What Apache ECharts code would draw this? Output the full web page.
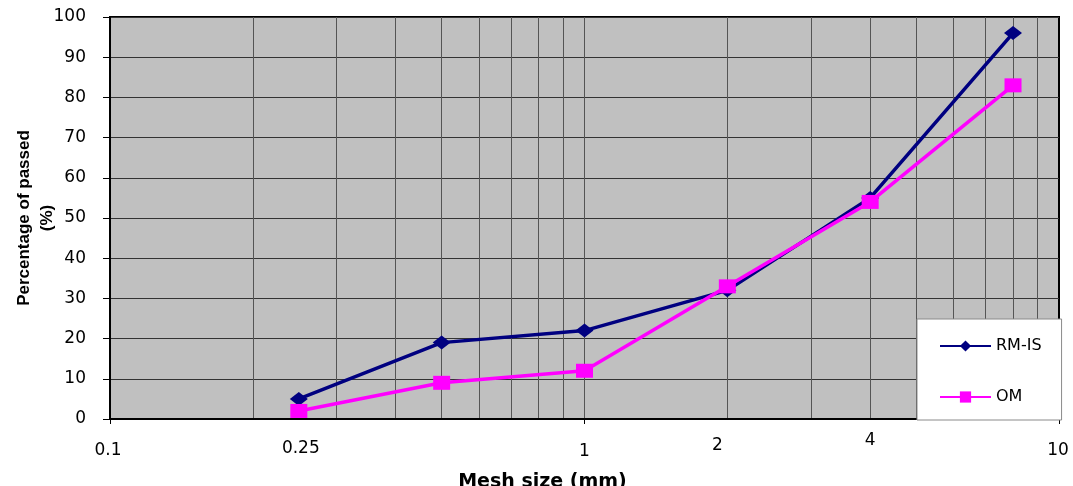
<!DOCTYPE html>
<html>
<head>
<meta charset="utf-8">
<script src="https://cdn.jsdelivr.net/npm/echarts@6/dist/echarts.min.js"></script>
<style>
html,body{margin:0;padding:0;background:#fff;}
#chart{width:1073px;height:486px;}
</style>
</head>
<body>
<div id="chart"></div>
<script>
// ---- data ----
var meshSizes = [0.25, 0.5, 1, 2, 4, 8];
var rmisValues = [5, 19, 22, 32, 55, 96];
var omValues = [2, 9, 12, 33, 54, 83];
var seriesNames = ['RM-IS', 'OM'];
var xTickLabels = [0.1, 0.25, 1, 2, 4, 10];
var xMajorTicks = [0.1, 1, 10];
var xGridValues = [0.2, 0.3, 0.4, 0.5, 0.6, 0.7, 0.8, 0.9, 1, 2, 3, 4, 5, 6, 7, 8, 9];
var yMin = 0, yMax = 100, yStep = 10;

// ---- styling for individual x labels (Excel placed them by hand) ----
var labelStyleKeys = ['a', 'b', 'c', 'd', 'e', 'f'];
var labelRich = {
  a: {lineHeight: 37, padding: [0, 4, 0, 0]},
  b: {lineHeight: 34, padding: [0, 0, 0, 4]},
  c: {lineHeight: 40, padding: [0, 0, 0, 0]},
  d: {lineHeight: 27, padding: [0, 20, 0, 0]},
  e: {lineHeight: 17, padding: [0, 0, 0, 0]},
  f: {lineHeight: 38, padding: [0, 2, 0, 0]}
};
Object.keys(labelRich).forEach(function (k) {
  labelRich[k].fontFamily = 'DejaVu Sans';
  labelRich[k].fontSize = 17;
  labelRich[k].color = '#000';
});

function pairs(xs, ys) {
  return xs.map(function (x, i) { return [x, ys[i]]; });
}

var chart = echarts.init(document.getElementById('chart'), null, {renderer: 'canvas'});
chart.setOption({
  animation: false,
  backgroundColor: '#fff',
  grid: {
    left: 110, top: 17, right: 14, bottom: 67,
    containLabel: false,
    outerBoundsMode: 'none',
    show: true,
    backgroundColor: '#C0C0C0',
    borderColor: '#000',
    borderWidth: 2
  },
  legend: {
    orient: 'vertical',
    left: 917, top: 319,
    padding: [19, 20, 15, 22],
    itemGap: 35,
    itemWidth: 51,
    itemHeight: 14,
    backgroundColor: '#fff',
    borderColor: '#8a8a8a',
    borderWidth: 1,
    borderRadius: 0,
    textStyle: {fontFamily: 'DejaVu Sans', fontSize: 16, color: '#000'},
    data: seriesNames
  },
  xAxis: [
    {
      type: 'log', logBase: 10, min: 0.1, max: 10,
      position: 'top',
      axisLine: {show: false},
      axisTick: {show: false, customValues: xGridValues},
      axisLabel: {show: false},
      splitLine: {show: true, lineStyle: {color: '#555', width: 1}}
    },
    {
      type: 'log', logBase: 10, min: 0.1, max: 10,
      position: 'bottom',
      name: 'Mesh size (mm)',
      nameLocation: 'middle',
      nameGap: 54,
      nameMoveOverlap: false,
      nameTextStyle: {fontFamily: 'DejaVu Sans', fontWeight: 'bold', fontSize: 19, color: '#000', padding: [0, 84, 0, 0]},
      axisLine: {show: true, lineStyle: {color: '#000', width: 2}},
      axisTick: {show: true, inside: false, length: 5, customValues: xMajorTicks, lineStyle: {color: '#000', width: 1}},
      axisLabel: {
        show: true,
        margin: 13,
        customValues: xTickLabels,
        hideOverlap: false,
        verticalAlign: 'top',
        formatter: function (v) {
          var idx = -1;
          for (var i = 0; i < xTickLabels.length; i++) {
            if (Math.abs(xTickLabels[i] - v) < 1e-9) { idx = i; }
          }
          var key = labelStyleKeys[idx] || 'a';
          return '{' + key + '|' + String(xTickLabels[idx >= 0 ? idx : 0]) + '}';
        },
        rich: labelRich
      },
      splitLine: {show: false}
    }
  ],
  yAxis: {
    type: 'value', min: yMin, max: yMax, interval: yStep,
    name: 'Percentage of passed\n(%)',
    nameLocation: 'middle',
    nameRotate: 90,
    nameGap: 51,
    nameMoveOverlap: false,
    nameTextStyle: {fontFamily: 'Liberation Sans', fontWeight: 'bold', fontSize: 17, color: '#000', lineHeight: 23},
    axisLine: {show: true, lineStyle: {color: '#000', width: 2}},
    axisTick: {show: true, inside: false, length: 7, lineStyle: {color: '#000', width: 1}},
    axisLabel: {margin: 24, fontFamily: 'DejaVu Sans', fontSize: 17, color: '#000'},
    splitLine: {show: true, lineStyle: {color: '#333', width: 1}}
  },
  series: [
    {
      name: seriesNames[0],
      type: 'line',
      xAxisIndex: 1,
      data: pairs(meshSizes, rmisValues),
      symbol: 'diamond',
      symbolSize: [18, 14],
      lineStyle: {color: '#000080', width: 3.5},
      itemStyle: {color: '#000080'},
      z: 3
    },
    {
      name: seriesNames[1],
      type: 'line',
      xAxisIndex: 1,
      data: pairs(meshSizes, omValues),
      symbol: 'rect',
      symbolSize: [17, 14],
      lineStyle: {color: '#FF00FF', width: 3.5},
      itemStyle: {color: '#FF00FF'},
      z: 4
    }
  ]
});
</script>
</body>
</html>
